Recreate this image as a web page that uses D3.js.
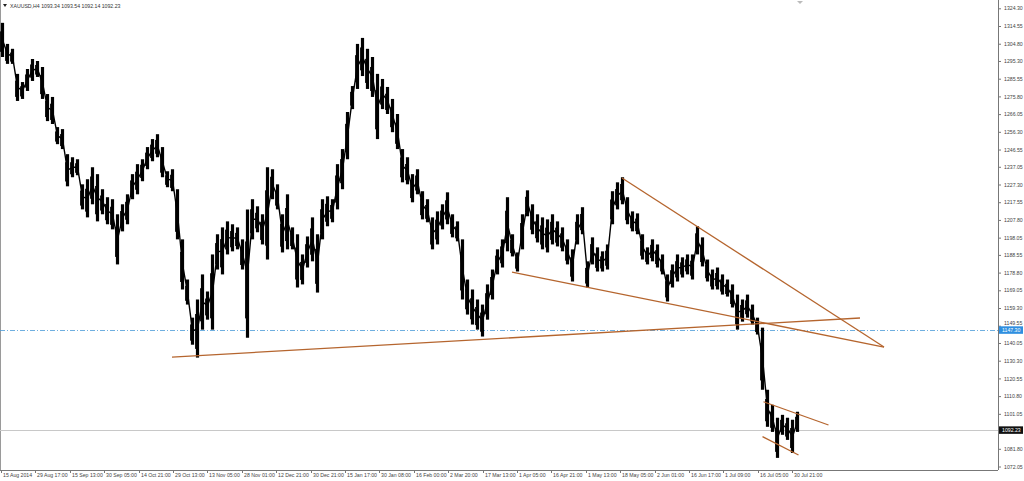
<!DOCTYPE html>
<html><head><meta charset="utf-8">
<script src="https://cdn.jsdelivr.net/npm/d3@7"></script>
<style>
body{margin:0;background:#fff;}
svg{display:block;font-family:"Liberation Sans",Arial,sans-serif;}
</style>
</head><body>
<svg id="chart" width="1024" height="481"></svg>
<script>
// ---- data (XAUUSD H4, Aug 2014 - Jul 2015) ----
const barHighs = [1316.3,1304.7,1302.0,1288.2,1283.7,1290.9,1296.4,1295.3,1292.0,1277.1,
1275.5,1258.9,1257.8,1244.0,1242.3,1241.2,1227.4,1230.2,1236.8,1233.0,
1224.7,1220.3,1219.2,1210.9,1216.4,1221.9,1233.0,1238.5,1241.2,1247.9,
1252.3,1255.0,1247.9,1234.6,1235.7,1224.7,1197.1,1175.0,1154.0,1164.0,
1177.8,1168.4,1188.8,1199.9,1203.7,1207.0,1205.4,1203.7,1197.1,1213.6,
1219.2,1215.3,1210.9,1236.8,1235.7,1227.4,1210.9,1221.9,1203.7,1199.9,
1188.8,1198.7,1209.2,1199.9,1219.2,1220.8,1219.2,1238.5,1246.8,1267.2,
1281.5,1304.7,1308.0,1302.0,1297.5,1288.2,1285.4,1281.0,1274.4,1266.1,
1246.8,1242.3,1233.0,1235.7,1223.6,1219.2,1209.2,1212.5,1216.4,1223.0,
1210.9,1207.0,1197.1,1175.0,1169.5,1164.0,1161.2,1172.3,1180.5,1191.6,
1197.1,1220.3,1199.9,1189.9,1210.9,1224.1,1216.4,1210.9,1209.2,1208.1,
1210.9,1207.0,1203.7,1197.1,1191.6,1210.9,1214.8,1185.0,1198.2,1192.7,
1190.5,1194.3,1223.6,1228.5,1231.3,1220.3,1212.5,1211.4,1199.9,1192.7,
1197.1,1194.3,1188.8,1177.8,1183.3,1188.8,1187.2,1188.8,1188.8,1204.3,
1198.2,1186.0,1180.5,1181.6,1177.8,1175.0,1172.3,1166.7,1164.0,1166.7,
1161.2,1154.0,1148.5,1114.3,1106.0,1098.9,1100.5,1098.9,1097.8,1102.2];
const barLows = [1297.5,1293.7,1293.7,1273.3,1274.4,1278.8,1284.3,1286.5,1274.4,1262.2,
1260.6,1249.5,1246.8,1226.3,1231.3,1232.4,1213.6,1209.2,1216.4,1207.0,
1210.9,1205.4,1202.6,1183.3,1201.5,1205.4,1219.2,1221.9,1229.1,1235.7,
1240.1,1242.3,1231.3,1225.8,1223.6,1197.1,1169.5,1161.2,1139.1,1132.0,
1147.4,1152.9,1147.4,1180.5,1177.8,1188.8,1190.5,1191.6,1180.5,1143.0,
1197.1,1201.0,1194.3,1186.0,1219.2,1213.6,1189.9,1191.6,1191.6,1170.6,
1172.3,1181.6,1185.0,1167.8,1197.1,1204.3,1206.5,1213.6,1224.7,1241.2,
1268.8,1279.9,1287.0,1279.9,1275.5,1252.3,1268.8,1266.1,1256.1,1246.8,
1228.5,1227.4,1217.5,1221.9,1208.1,1206.5,1191.6,1194.3,1202.6,1205.4,
1198.2,1196.0,1164.0,1155.7,1150.2,1147.4,1143.6,1152.9,1164.0,1177.8,
1181.6,1190.5,1187.7,1179.4,1191.6,1209.8,1199.9,1195.4,1191.6,1189.9,
1194.3,1193.2,1190.5,1183.3,1173.9,1194.3,1199.9,1170.6,1183.3,1179.4,
1179.4,1180.5,1205.4,1213.6,1216.4,1205.4,1201.5,1199.9,1186.0,1183.3,
1185.0,1181.6,1177.8,1162.9,1170.6,1173.9,1176.1,1177.8,1175.0,1188.8,
1182.2,1173.9,1169.5,1169.5,1166.7,1165.6,1159.6,1147.4,1151.8,1154.0,
1150.2,1144.7,1114.3,1093.9,1091.1,1076.8,1089.5,1086.7,1079.5,1091.1];
const priceTicks = [1324.30,1314.55,1304.80,1295.30,1285.55,1275.80,1266.05,1256.30,1246.55,
1237.05,1227.30,1217.55,1207.80,1198.05,1188.55,1178.80,1169.05,1159.30,1149.55,1140.05,
1130.30,1120.55,1110.80,1101.05,1081.80,1072.05];
const timeLabels = ["15 Aug 2014","29 Aug 17:00","15 Sep 13:00","30 Sep 05:00","14 Oct 21:00",
"29 Oct 13:00","13 Nov 05:00","28 Nov 01:00","12 Dec 21:00","30 Dec 21:00","15 Jan 17:00",
"30 Jan 08:00","16 Feb 00:00","2 Mar 20:00","17 Mar 13:00","1 Apr 05:00","16 Apr 21:00",
"1 May 13:00","18 May 05:00","2 Jun 01:00","16 Jun 17:00","1 Jul 09:00","16 Jul 05:00","30 Jul 21:00"];
const symbolTitle = "XAUUSD,H4  1093.34 1093.54 1092.14 1092.23";
const levelPrice = 1147.30;
const bidPrice = 1092.23;
// trend lines: [bar index, price] start and end
const trendStartBar = [34.4, 124.4, 102.4, 152.7, 152.5];
const trendStartPrice = [1132.3, 1230.9, 1179.1, 1107.7, 1088.5];
const trendEndBar = [172.0, 176.8, 176.8, 165.7, 159.7];
const trendEndPrice = [1153.8, 1137.8, 1137.8, 1094.9, 1078.4];

// ---- layout ----
const plotRight = 998, plotBottom = 470;
const barsPerLabel = 6.88;
const svg = d3.select("#chart");

const x = d3.scaleLinear().domain([0, 199.6]).range([0, plotRight]);
const y = d3.scaleLinear().domain([1070.13, 1328.87]).range([plotBottom, 0]);

const bars = barHighs.map((h, i) => ({i, h, l: barLows[i]}));
const trends = trendStartBar.map((b, i) => ({b1: b, p1: trendStartPrice[i], b2: trendEndBar[i], p2: trendEndPrice[i]}));

// frame
svg.append("line").attr("x1", 0.5).attr("x2", 0.5).attr("y1", 0).attr("y2", plotBottom).attr("stroke", "#9a9a9a");

// level (dash-dot) line
const ly = Math.round(y(levelPrice)) + 0.5;
svg.append("line").attr("x1", 0).attr("x2", plotRight).attr("y1", ly).attr("y2", ly)
  .attr("stroke", "#4a9ad8").attr("stroke-width", 0.8).attr("stroke-dasharray", "5,2,1,2");
// bid line
const by = Math.round(y(bidPrice)) + 0.5;
svg.append("line").attr("x1", 0).attr("x2", plotRight).attr("y1", by).attr("y2", by)
  .attr("stroke", "#c8c8c8").attr("stroke-width", 1);

// price bars (high-low ranges) plus a thin connecting path through the bar midpoints
svg.append("path").datum(bars)
  .attr("fill", "none").attr("stroke", "#000").attr("stroke-width", 1.4)
  .attr("d", d3.line().x(d => x(d.i + 0.5)).y(d => y((d.h + d.l) / 2)));
svg.append("g").selectAll("line").data(bars).join("line")
  .attr("x1", d => x(d.i + 0.5)).attr("x2", d => x(d.i + 0.5))
  .attr("y1", d => y(d.h)).attr("y2", d => y(d.l))
  .attr("stroke", "#000").attr("stroke-width", 3.2);
svg.append("g").selectAll("line").data(bars).join("line")
  .attr("x1", d => x(d.i + 0.5) - 1.9).attr("x2", d => x(d.i + 0.5) - 1.9)
  .attr("y1", d => y(d.h) + (y(d.l) - y(d.h)) * 0.25).attr("y2", d => y(d.l) - (y(d.l) - y(d.h)) * 0.15)
  .attr("stroke", "#000").attr("stroke-width", 1);

// trend lines
svg.append("g").selectAll("line").data(trends).join("line")
  .attr("x1", d => x(d.b1)).attr("y1", d => y(d.p1))
  .attr("x2", d => x(d.b2)).attr("y2", d => y(d.p2))
  .attr("stroke", "#b5652e").attr("stroke-width", 1.3);

// right axis
const yAxis = d3.axisRight(y).tickValues(priceTicks).tickSize(3).tickPadding(3).tickFormat(d3.format(".2f"));
const gy = svg.append("g").attr("transform", `translate(${plotRight},0)`).call(yAxis);
gy.select(".domain").attr("stroke", "#777").attr("d", `M0.5,0V${plotBottom}`);
gy.selectAll(".tick line").attr("stroke", "#777");
gy.selectAll("text").attr("font-size", 5.2).attr("fill", "#444").attr("font-family", "Liberation Sans, Arial");
// the level box covers most of this tick label, as in the reference
gy.selectAll(".tick").filter(d => d === 1149.55).select("text").attr("dy", "-0.15em");

// bottom axis
svg.append("line").attr("x1", 0).attr("x2", plotRight).attr("y1", plotBottom + 0.5).attr("y2", plotBottom + 0.5).attr("stroke", "#777");
const gx = svg.append("g");
const tl = gx.selectAll("g").data(timeLabels).join("g")
  .attr("transform", (d, k) => `translate(${Math.round(x(k * barsPerLabel)) + 1.5},${plotBottom})`);
tl.append("line").attr("y1", 0).attr("y2", 3).attr("stroke", "#777");
tl.append("text").attr("x", 1.5).attr("y", 6.5).attr("font-size", 5.2).attr("fill", "#444").text(d => d);

// price label boxes
function priceBox(p, bg) {
  const yy = y(p);
  svg.append("rect").attr("x", plotRight + 1).attr("y", yy - 3.5).attr("width", 24).attr("height", 7.5).attr("fill", bg);
  svg.append("text").attr("x", plotRight + 4).attr("y", yy + 2).attr("font-size", 5.2).attr("fill", "#fff").text(d3.format(".2f")(p));
}
priceBox(levelPrice, "#2f8fe0");
priceBox(bidPrice, "#111");

// title
svg.append("path").attr("d", "M3,4 L7,4 L5,7 Z").attr("fill", "#222");
svg.append("text").attr("x", 10).attr("y", 8).attr("font-size", 5.2).attr("fill", "#333").text(symbolTitle);

// chart shift marker
svg.append("path").attr("d", `M${x(160)-3},1 L${x(160)+3},1 L${x(160)},4 Z`).attr("fill", "#bbb");
</script>
</body></html>
